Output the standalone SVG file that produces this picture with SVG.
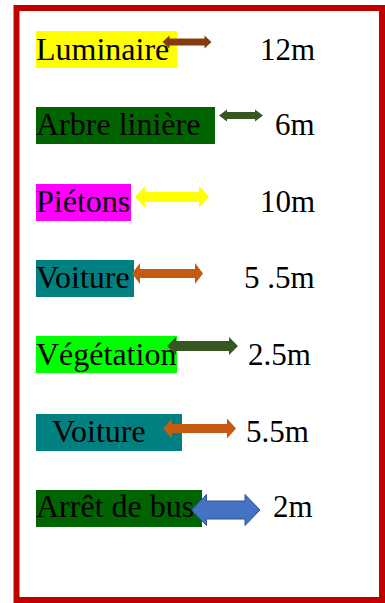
<svg xmlns="http://www.w3.org/2000/svg" width="385" height="603" viewBox="0 0 385 603">
<style>
.lbl{font-family:"Liberation Serif","Times New Roman",serif;font-size:32px;fill:#000}
.dim{font-family:"Liberation Serif","Times New Roman",serif;font-size:31px;fill:#000}
</style>
<rect x="0" y="0" width="385" height="603" fill="#fff"/>
<rect id="frame" x="16.5" y="8" width="365.5" height="592" fill="none" stroke="#c00000" stroke-width="6"/>
<g id="luminaire"><rect x="36" y="31" width="141" height="37" fill="#ffff00"/><text class="lbl" x="36" y="60">Luminaire</text></g>
<g id="arbre"><rect x="36" y="107" width="179" height="37" fill="#006400"/><text class="lbl" x="36" y="135">Arbre linière</text></g>
<g id="pietons"><rect x="36" y="184" width="95" height="37" fill="#ff00ff"/><text class="lbl" x="36" y="212">Piétons</text></g>
<g id="voiture1"><rect x="36" y="260" width="98" height="37" fill="#008080"/><text class="lbl" x="36" y="288">Voiture</text></g>
<g id="vegetation"><rect x="36" y="336" width="141" height="37" fill="#00ff00"/><text class="lbl" x="36" y="365">Végétation</text></g>
<g id="voiture2"><rect x="36" y="414" width="146" height="37" fill="#008080"/><text class="lbl" x="52" y="442">Voiture</text></g>
<g id="arret"><rect x="36" y="490" width="166" height="37" fill="#006400"/><text class="lbl" x="36" y="517">Arrêt de bus</text></g>
<g id="dims">
<text class="dim" x="260" y="60">12m</text>
<text class="dim" x="275" y="135">6m</text>
<text class="dim" x="260" y="212">10m</text>
<text class="dim" x="244" y="288">5 .5m</text>
<text class="dim" x="248" y="365">2.5m</text>
<text class="dim" x="246" y="442">5.5m</text>
<text class="dim" x="273" y="517">2m</text>
</g>
<g id="connectors">
<path d="M162.5 42 L169.5 35.5 L169.5 38.5 L204.5 38.5 L204.5 35.5 L211.5 42 L204.5 48.5 L204.5 45.5 L169.5 45.5 L169.5 48.5 Z" fill="#843c0c"/>
<path d="M219 115.5 L227 109.5 L227 112 L255 112 L255 109.5 L263 115.5 L255 121.5 L255 119 L227 119 L227 121.5 Z" fill="#375623"/>
<path d="M135 197 L145 186 L145 192 L199 192 L199 186 L209 197 L199 208 L199 202 L145 202 L145 208 Z" fill="#ffff00"/>
<path d="M132 273.5 L140 263 L140 269 L195 269 L195 263 L203 273.5 L195 284 L195 278 L140 278 L140 284 Z" fill="#c55a11"/>
<path d="M167 346 L176 337 L176 341 L229 341 L229 337 L238 346 L229 355 L229 351 L176 351 L176 355 Z" fill="#375623"/>
<path d="M163 428.5 L172 418.5 L172 424 L227 424 L227 418.5 L236 428.5 L227 438.5 L227 433 L172 433 L172 438.5 Z" fill="#c55a11"/>
<path d="M191.5 510 L206.5 494.5 L206.5 501 L245 501 L245 494.5 L260 510 L245 525.5 L245 519 L206.5 519 L206.5 525.5 Z" fill="#4472c4" stroke="#2f528f" stroke-width="1"/>
</g>
</svg>
